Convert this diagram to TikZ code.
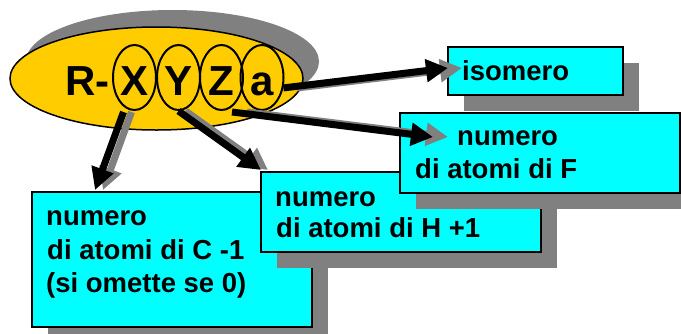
\documentclass[tikz,border=0pt]{standalone}
\usepackage{fontspec}
\setmainfont{Liberation Sans}
\usetikzlibrary{arrows.meta,shapes.geometric,shadows,calc}
\definecolor{gold}{HTML}{FFCC00}
\definecolor{aqua}{HTML}{00FFFF}
\definecolor{shadowgray}{HTML}{808080}
\begin{document}
\begin{tikzpicture}[x=1pt,y=-1pt,
  bigell/.style={ellipse, draw=black, line width=1.5pt, fill=gold,
    minimum width=293pt, minimum height=103pt, inner sep=0pt,
    drop shadow={shadow xshift=16pt, shadow yshift=17pt, fill=shadowgray, opacity=1}},
  bigtext/.style={inner sep=0pt, font=\fontsize{42}{42}\selectfont\bfseries},
  letterell/.style={ellipse, draw=black, line width=2pt,
    minimum width=43pt, minimum height=65pt, inner sep=0pt,
    font=\fontsize{42}{42}\selectfont\bfseries, text height=35pt, text depth=0pt},
  infobox/.style={rectangle, draw=black, line width=2pt, fill=aqua, inner sep=0pt,
    drop shadow={shadow xshift=16pt, shadow yshift=-16pt, fill=shadowgray, opacity=1}},
  boxtext/.style={anchor=base west, inner sep=0pt, font=\fontsize{27.5}{34}\selectfont\bfseries},
  arrowline/.style={line width=7pt, -{Triangle[length=22pt,width=22pt]}},
  arrowshadow/.style={arrowline, color=shadowgray}]

\path[use as bounding box, clip] (0,0) rectangle (681,333);

% formula R-XYZa
\node[bigell] (formula) at (156.5,78.5) {};
\node[bigtext, anchor=base west] (rtext) at (65,95) {R-};
\node[letterell] (lx) at (134.5,77.5) {X};
\node[letterell] (ly) at (178.5,77.5) {Y};
\node[letterell] (lz) at (221.5,77.5) {Z};
\node[letterell] (la) at (262,77.5) {a};

% carbon box
\node[infobox, minimum width=280pt, minimum height=135pt] (cbox) at (172,259.5) {};
\node[boxtext] (c1) at (46,225) {numero};
\node[boxtext] (c2) at (47,259) {di atomi di C -1};
\node[boxtext] (c3) at (46,292) {(si omette se 0)};

% hydrogen box
\node[infobox, minimum width=280pt, minimum height=80pt] (hbox) at (401,212) {};
\node[boxtext] (h1) at (275,206) {numero};
\node[boxtext] (h2) at (276,237) {di atomi di H +1};

% fluorine box
\node[infobox, minimum width=280pt, minimum height=80pt] (fbox) at (540,153) {};
\node[boxtext] (f1) at (457,145) {numero};
\node[boxtext] (f2) at (415,178) {di atomi di F};

% isomer box
\node[infobox, minimum width=175pt, minimum height=48pt] (ibox) at (535.5,71) {};
\node[boxtext] (i1) at (462,80) {isomero};

% arrow end points
\coordinate (tipC) at (95,190);
\coordinate (tipH) at (261,170);
\coordinate (tipF) at (433,137);
\coordinate (tipI) at (448,68);
\coordinate (startC) at ($(lx.south)+(-11,1)$);
\coordinate (startF) at ($(lz.south)+(10.5,1)$);

% arrows, each over its shifted grey shadow
\begin{scope}[transform canvas={xshift=8pt}]
  \draw[arrowshadow] (startC) -- (tipC);
\end{scope}
\draw[arrowline] (startC) -- (tipC);

\begin{scope}[transform canvas={xshift=7pt}]
  \draw[arrowshadow] (ly.south) -- (tipH);
\end{scope}
\draw[arrowline] (ly.south) -- (tipH);

\begin{scope}[transform canvas={xshift=15pt}]
  \draw[arrowshadow] (startF) -- (tipF);
\end{scope}
\draw[arrowline] (startF) -- (tipF);

\begin{scope}[transform canvas={xshift=14pt}]
  \draw[arrowshadow] (la.-26) -- (tipI);
\end{scope}
\draw[arrowline] (la.-26) -- (tipI);

\end{tikzpicture}
\end{document}
